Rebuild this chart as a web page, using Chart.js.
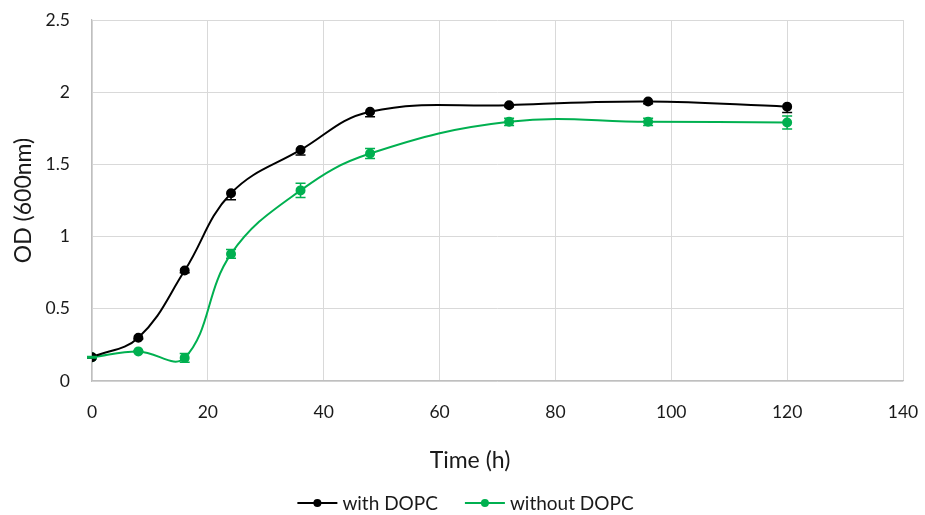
<!DOCTYPE html>
<html>
<head>
<meta charset="utf-8">
<script src="https://cdn.jsdelivr.net/npm/chart.js@4.4.1/dist/chart.umd.min.js"></script>
<style>
  html, body { margin: 0; padding: 0; background: #ffffff; }
  #wrap { width: 925px; height: 515px; position: relative; }
</style>
</head>
<body>
<div id="wrap"><canvas id="c" width="925" height="515"></canvas></div>
<script>
// ---- data ----
const timesH = [0, 8, 16, 24, 36, 48, 72, 96, 120];
const withDOPC = [0.165, 0.30, 0.765, 1.30, 1.60, 1.865, 1.91, 1.935, 1.90];
const withDOPCErr = [0.005, 0.01, 0.015, 0.045, 0.035, 0.035, 0.01, 0.015, 0.04];
const withoutDOPC = [0.165, 0.205, 0.16, 0.88, 1.32, 1.575, 1.795, 1.795, 1.79];
const withoutDOPCErr = [0.005, 0.005, 0.03, 0.03, 0.05, 0.035, 0.025, 0.025, 0.045];
const seriesNames = ['with DOPC', 'without DOPC'];
const xTitle = 'Time (h)';
const yTitle = 'OD (600nm)';

const FONT = 'Lato, "Open Sans", sans-serif';
const TEXT = '#1a1a1a';

function toPoints(xs, ys) { return xs.map((x, i) => ({ x: x, y: ys[i] })); }

// error bars: black shows minus only, green both directions
const errorBarPlugin = {
  id: 'errorBars',
  afterDatasetsDraw(chart) {
    const ctx = chart.ctx;
    const yScale = chart.scales.y;
    chart.data.datasets.forEach((ds, di) => {
      const meta = chart.getDatasetMeta(di);
      ctx.save();
      ctx.strokeStyle = ds.borderColor;
      ctx.lineWidth = 1.5;
      meta.data.forEach((pt, i) => {
        const v = ds.data[i].y;
        const e = ds.errors[i];
        const yLo = yScale.getPixelForValue(v - e);
        const yHi = ds.errPlus ? yScale.getPixelForValue(v + e) : pt.y;
        ctx.beginPath();
        ctx.moveTo(pt.x, yHi); ctx.lineTo(pt.x, yLo);
        ctx.moveTo(pt.x - 5, yLo); ctx.lineTo(pt.x + 5, yLo);
        if (ds.errPlus) { ctx.moveTo(pt.x - 5, yHi); ctx.lineTo(pt.x + 5, yHi); }
        ctx.stroke();
      });
      ctx.restore();
    });
  }
};

// x-axis title (offset like the reference) and bottom legend with line + dot symbol
const titleLegendPlugin = {
  id: 'titleLegend',
  afterDraw(chart) {
    const ctx = chart.ctx;
    ctx.save();
    ctx.fillStyle = TEXT;
    ctx.textBaseline = 'middle';
    ctx.textAlign = 'center';
    ctx.font = '23px ' + FONT;
    ctx.fillText(xTitle, 470, 461);

    ctx.font = '19px ' + FONT;
    ctx.textAlign = 'left';
    const symW = 40, gap = 5, itemGap = 27, y = 503;
    const items = chart.data.datasets.map(ds => ({ label: ds.label, color: ds.borderColor, w: symW + gap + ctx.measureText(ds.label).width }));
    const total = items.reduce((s, it) => s + it.w, 0) + itemGap * (items.length - 1);
    let x = 465.5 - total / 2;
    items.forEach(it => {
      ctx.strokeStyle = it.color; ctx.lineWidth = 2;
      ctx.beginPath(); ctx.moveTo(x, y); ctx.lineTo(x + symW, y); ctx.stroke();
      ctx.fillStyle = it.color;
      ctx.beginPath(); ctx.arc(x + symW / 2, y, 4, 0, Math.PI * 2); ctx.fill();
      ctx.fillStyle = TEXT;
      ctx.fillText(it.label, x + symW + gap, y + 1);
      x += it.w + itemGap;
    });
    ctx.restore();
  }
};

const fmt = v => String(+Number(v).toFixed(2));

new Chart(document.getElementById('c'), {
  type: 'line',
  data: {
    datasets: [
      {
        label: seriesNames[0],
        data: toPoints(timesH, withDOPC),
        errors: withDOPCErr, errPlus: false,
        borderColor: '#000000', backgroundColor: '#000000',
        borderWidth: 2, pointRadius: 4, pointHoverRadius: 4,
        tension: 0.4, fill: false
      },
      {
        label: seriesNames[1],
        data: toPoints(timesH, withoutDOPC),
        errors: withoutDOPCErr, errPlus: true,
        borderColor: '#00b050', backgroundColor: '#00b050',
        borderWidth: 2, pointRadius: 4, pointHoverRadius: 4,
        tension: 0.4, fill: false
      }
    ]
  },
  options: {
    responsive: false,
    animation: false,
    layout: { padding: { left: 0, right: 22, top: 20, bottom: 0 } },
    plugins: { legend: { display: false }, tooltip: { enabled: false } },
    scales: {
      x: {
        type: 'linear', min: 0, max: 140,
        ticks: { stepSize: 20, color: TEXT, font: { family: FONT, size: 17.5 }, padding: 21, maxRotation: 0, callback: fmt },
        grid: { color: '#d9d9d9', lineWidth: 1, drawTicks: false },
        border: { color: '#bfbfbf', width: 1.2 },
        title: { display: false },
        afterFit(scale) { scale.height = 134; scale.paddingLeft = 0; scale.paddingRight = 0; }
      },
      y: {
        min: 0, max: 2.5,
        ticks: { stepSize: 0.5, color: TEXT, font: { family: FONT, size: 17.5 }, padding: 22, callback: fmt },
        grid: { color: '#d9d9d9', lineWidth: 1, drawTicks: false },
        border: { color: '#bfbfbf', width: 1.2 },
        title: { display: true, text: yTitle, color: TEXT, font: { family: FONT, size: 23 }, padding: { top: 10, bottom: 0 } },
        afterFit(scale) { scale.width = 92; scale.paddingTop = 0; scale.paddingBottom = 0; }
      }
    }
  },
  plugins: [errorBarPlugin, titleLegendPlugin]
});
</script>
</body>
</html>
